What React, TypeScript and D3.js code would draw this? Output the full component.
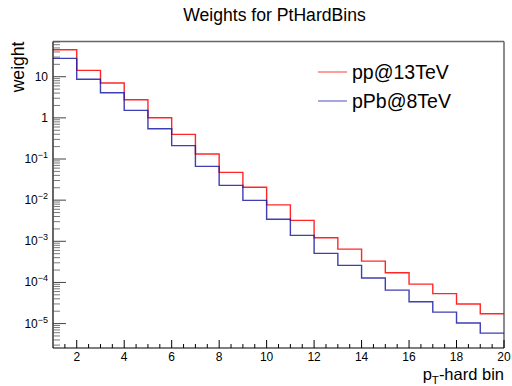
import React from "react";
import * as d3 from "d3";

const binEdges = [1, 2, 3, 4, 5, 6, 7, 8, 9, 10, 11, 12, 13, 14, 15, 16, 17, 18, 19, 20];
const ppValues = [45.3, 14.3, 7.03, 2.76, 1.01, 0.398, 0.132, 0.0474, 0.0206, 0.00767, 0.00323, 0.00122, 6.47e-4, 3.3e-4, 1.72e-4, 9.12e-5, 5.36e-5, 2.98e-5, 1.73e-5];
const pPbValues = [28.0, 8.65, 4.08, 1.52, 0.545, 0.212, 0.0664, 0.0229, 0.00989, 0.00343, 0.00139, 5.08e-4, 2.6e-4, 1.28e-4, 6.52e-5, 3.39e-5, 1.9e-5, 1.03e-5, 5.87e-6];
const seriesNames = ["pp@13TeV", "pPb@8TeV"];
const seriesColors = ["#ff0000", "#1c1ca8"];
const xMajorTicks = [2, 4, 6, 8, 10, 12, 14, 16, 18, 20];
const yDecades = [-5, -4, -3, -2, -1, 0, 1];
const yDomain = [2.55e-6, 71.8];
const xDomain = [1, 20];

const W = 512, H = 386;
const L = 53, R = 504, T = 41.5, B = 348;
const FONT = "'Liberation Sans', Arial, Helvetica, sans-serif";

export default function App() {
  const x = d3.scaleLinear().domain(xDomain).range([L, R]);
  const y = d3.scaleLog().domain(yDomain).range([B, T]);

  const stepPath = (vals: number[]) => {
    let p = `M${x(binEdges[0])},${y(vals[0])}`;
    vals.forEach((v, i) => {
      if (i > 0) p += `V${y(v)}`;
      p += `H${x(binEdges[i + 1])}`;
    });
    return p;
  };

  const xMinor: number[] = d3.range(xDomain[0], xDomain[1] + 0.001, 0.5).filter((v) => !xMajorTicks.includes(v) && v > xDomain[0]);

  const yMinor: number[] = [];
  for (let d = -6; d <= 1; d++) {
    for (let k = 2; k <= 9; k++) {
      const v = k * Math.pow(10, d);
      if (v >= yDomain[0] && v <= yDomain[1]) yMinor.push(v);
    }
  }

  const yLabel = (d: number) => {
    if (d === 1) return <tspan>10</tspan>;
    if (d === 0) return <tspan>1</tspan>;
    return (
      <>
        <tspan>10</tspan>
        <tspan dy={-5} fontSize={9}>{`\u2212${-d}`}</tspan>
      </>
    );
  };

  return (
    <svg width={W} height={H} style={{ position: "absolute", left: 0, top: 0, background: "#fff" }} fontFamily={FONT}>
      <rect x={0} y={0} width={W} height={H} fill="#fff" />
      <text x={274.5} y={21} textAnchor="middle" fontSize={17.6} fill="#000">Weights for PtHardBins</text>

      {/* frame */}
      <line x1={L} y1={T} x2={R} y2={T} stroke="#666" strokeWidth={1.5} />
      <line x1={R} y1={T} x2={R} y2={B} stroke="#666" strokeWidth={1.5} />

      {/* histograms */}
      <path d={stepPath(ppValues)} fill="none" stroke={seriesColors[0]} strokeWidth={1.4} strokeOpacity={0.85} />
      <path d={stepPath(pPbValues)} fill="none" stroke={seriesColors[1]} strokeWidth={1.4} strokeOpacity={0.85} />

      {/* axes */}
      <line x1={L} y1={T} x2={L} y2={B} stroke="#000" strokeWidth={1.2} />
      <line x1={L} y1={B} x2={R} y2={B} stroke="#000" strokeWidth={1.2} />

      {xMajorTicks.map((t) => (
        <g key={"xm" + t}>
          <line x1={x(t)} x2={x(t)} y1={B} y2={B - 8} stroke="#000" />
          <text x={x(t)} y={361} textAnchor="middle" fontSize={12}>{t}</text>
        </g>
      ))}
      {xMinor.map((t) => (
        <line key={"xn" + t} x1={x(t)} x2={x(t)} y1={B} y2={B - 4} stroke="#000" />
      ))}

      {yDecades.map((d) => {
        const yy = y(Math.pow(10, d));
        return (
          <g key={"yd" + d}>
            <line x1={L} x2={L + 13} y1={yy} y2={yy} stroke="#444" />
            <text x={48} y={yy + 4} textAnchor="end" fontSize={12}>{yLabel(d)}</text>
          </g>
        );
      })}
      {yMinor.map((v, i) => (
        <line key={"yn" + i} x1={L} x2={L + 7} y1={y(v)} y2={y(v)} stroke="#555" strokeWidth={0.8} />
      ))}

      {/* axis titles */}
      <text transform={`translate(24,${T}) rotate(-90)`} textAnchor="end" fontSize={17.6}>weight</text>
      <text x={R} y={379.5} textAnchor="end" fontSize={16.5}>
        <tspan>p</tspan>
        <tspan dy={4} fontSize={11.5}>T</tspan>
        <tspan dy={-4}>-hard bin</tspan>
      </text>

      {/* legend */}
      {seriesNames.map((n, i) => (
        <g key={n}>
          <line x1={318} x2={347} y1={72 + i * 29} y2={72 + i * 29} stroke={seriesColors[i]} strokeWidth={1.3} strokeOpacity={0.6} />
          <text x={352} y={79 + i * 28.5} fontSize={19.5}>{n}</text>
        </g>
      ))}
    </svg>
  );
}
